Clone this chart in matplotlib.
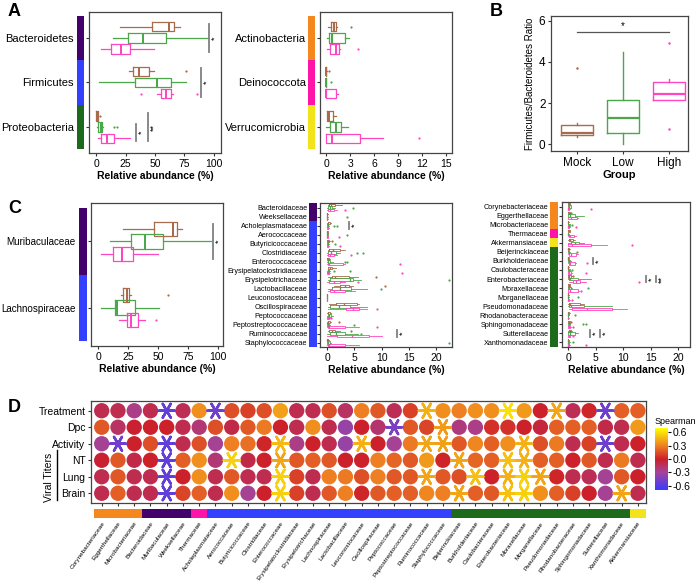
import numpy as np
import matplotlib.pyplot as plt
from matplotlib.colors import LinearSegmentedColormap, Normalize
from matplotlib.cm import ScalarMappable
from matplotlib.lines import Line2D

plt.rcParams['font.family'] = ['Liberation Sans', 'DejaVu Sans']

W, H = 696, 582
groups = ["Mock", "Low", "High"]
group_colors = ["#a86b4c", "#4aa84a", "#ff45c0"]

phylum_col = {"Actinobacteria": "#f5871f", "Bacteroidetes": "#43016b",
              "Deinococcota": "#ff14aa", "Firmicutes": "#3341ff",
              "Proteobacteria": "#1d6a1d", "Verrucomicrobia": "#f3e31b"}

# box stats: (whisker low, q1, median, q3, whisker high, outliers)
# ---- A, left
a1_taxa = ["Bacteroidetes", "Firmicutes", "Proteobacteria"]
a1_phyla = ["Bacteroidetes", "Firmicutes", "Proteobacteria"]
a1_mock = [(20, 47.5, 62, 66, 71, []), (28, 31, 36, 45, 49, [76]), (0, 0, 0.5, 1.4, 1.5, [3.7])]
a1_low = [(14, 27, 40, 59, 95, []), (2.5, 33, 52, 64, 76, []), (0.5, 1.4, 4, 5.4, 5.8, [15, 18])]
a1_high = [(4, 13, 21, 29, 49, []), (52, 55, 59, 64, 65, [38, 86]), (1.4, 4.5, 9, 15, 28.5, [])]
a1_sig = [(96, 1, 0, 2, "*"), (89, 2, 0, 2, "*"), (33.6, 3, 1, 2, "*"), (44, 3, 0, 2, "**")]

# ---- A, right
a2_taxa = ["Actinobacteria", "Deinococcota", "Verrucomicrobia"]
a2_phyla = ["Actinobacteria", "Deinococcota", "Verrucomicrobia"]
a2_mock = [(0.3, 0.6, 1.0, 1.3, 1.4, [3.1]), (0, 0, 0.02, 0.05, 0.1, [0.4]), (0.1, 0.1, 0.4, 0.9, 1.2, [])]
a2_low = [(0.1, 0.4, 0.8, 2.4, 2.9, []), (0, 0, 0.01, 0.03, 0.05, [0.6]), (0, 0.5, 1.3, 1.9, 2.8, [])]
a2_high = [(0.1, 0.5, 1.25, 1.6, 1.7, [4.0]), (0, 0, 0, 1.25, 1.5, []), (0, 0.05, 0.75, 4.2, 7.1, [11.6])]

# ---- B
b_mock = (0.38, 0.47, 0.57, 0.95, 1.05, [3.7])
b_low = (0.0, 0.55, 1.3, 2.15, 4.5, [])
b_high = (2.15, 2.15, 2.43, 3.01, 3.15, [4.93, 0.73])

# ---- C, left
c1_taxa = ["Muribaculaceae", "Lachnospiraceae"]
c1_phyla = ["Bacteroidetes", "Firmicutes"]
c1_mock = [(20.7, 46.6, 62, 66, 69.6, []), (19, 21, 24, 26, 27, [58])]
c1_low = [(10, 27, 39, 54, 94, []), (2, 14, 16, 31, 50.5, [])]
c1_high = [(2, 12.6, 20, 29, 50, []), (17, 24, 27, 33, 39, [48])]
c1_sig = [(96, 1, 0, 2, "*")]

# ---- C, middle
c2_taxa = ["Bacteroidaceae", "Weeksellaceae", "Acholeplasmataceae", "Aerococcaceae",
           "Butyricicoccaceae", "Clostridiaceae", "Enterococcaceae", "Erysipelatoclostridiaceae",
           "Erysipelotrichaceae", "Lactobacillaceae", "Leuconostocaceae", "Oscillospiraceae",
           "Peptococcaceae", "Peptostreptococcaceae", "Ruminococcaceae", "Staphylococcaceae"]
c2_phyla = ["Bacteroidetes"] * 2 + ["Firmicutes"] * 14
c2_mock = [(0.1, 0.3, 0.8, 1.5, 2.7, []), (0, 0, 0, 0.05, 0.1, []), (0, 0.1, 0.2, 0.5, 0.8, []),
           (0, 0, 0.05, 0.1, 0.2, []), (0, 0.05, 0.1, 0.3, 0.5, [0.9]), (0.1, 0.3, 1.0, 2.4, 3.3, []),
           (0, 0.05, 0.1, 0.3, 0.5, []), (0.1, 0.2, 0.5, 0.9, 1.6, []), (0.2, 0.9, 1.5, 4.1, 5.7, [8.9]),
           (1.2, 2.3, 3.3, 4.1, 4.8, [10.7]), (0, 0, 0, 0.02, 0.05, []), (0.3, 1.6, 3.1, 5.5, 5.9, []),
           (0, 0.1, 0.2, 0.5, 0.7, []), (0, 0.1, 0.2, 0.5, 0.8, [2.1]), (0.1, 0.4, 0.9, 1.5, 2.4, [4.3]),
           (0, 0, 0.05, 0.2, 0.3, [])]
c2_low = [(0, 0.2, 0.5, 0.9, 1.4, [4.8]), (0, 0, 0, 0.05, 0.1, [3.7]), (0, 0.05, 0.1, 0.2, 0.4, [1.3, 1.9]),
          (0, 0, 0.02, 0.1, 0.2, [3.7]), (0, 0.05, 0.1, 0.2, 0.4, [1.5]), (0, 0.2, 0.8, 1.6, 2.4, [5.4, 6.6]),
          (0, 0.1, 0.2, 0.6, 1.0, [3.2, 3.7]), (0, 0.1, 0.2, 0.4, 0.6, [1.3, 4.2]), (0.1, 0.5, 4.2, 4.8, 6.2, [22.4]),
          (0.1, 0.9, 2.3, 4.3, 7.3, [9.8]), (0, 0, 0, 0.02, 0.05, []), (0.1, 0.5, 2.1, 4.2, 7.3, []),
          (0, 0.1, 0.3, 0.8, 1.1, []), (0, 0.05, 0.1, 0.3, 0.5, [4.9]), (0, 0.5, 1.6, 3.3, 5.7, [6.3]),
          (0, 0.05, 0.2, 0.5, 0.8, [22.4])]
c2_high = [(0, 0.1, 0.5, 1.3, 1.8, [3.3]), (0, 0, 0, 0.05, 0.1, []), (0, 0.05, 0.1, 0.2, 0.3, []),
           (0, 0, 0.05, 0.1, 0.2, [2.1]), (0, 0.05, 0.1, 0.2, 0.4, [2.4]), (0, 0.1, 0.6, 1.2, 1.8, [4.3]),
           (0, 0.1, 0.3, 2.9, 3.3, [13.4]), (0, 0.05, 0.1, 0.3, 0.5, [13.7]), (0, 0.3, 1.2, 2.4, 3.3, [5.7]),
           (0.1, 0.5, 1.2, 3.3, 5.1, []), (0, 0, 0, 0.02, 0.05, []), (0.1, 3.5, 4.7, 5.9, 7.3, [9.1]),
           (0, 0.05, 0.1, 0.3, 0.5, [0.7]), (0, 0.1, 0.3, 3.3, 5.9, [9.1]), (0, 1.9, 4.5, 7.6, 10.0, []),
           (0, 0.1, 0.3, 3.3, 5.9, [])]
c2_sig = [(4.0, 3, 0, 2, "*"), (12.9, 15, 0, 2, "*")]

# ---- C, right
c3_taxa = ["Corynebacteriaceae", "Eggerthellaceae", "Microbacteriaceae", "Thermaceae",
           "Akkermansiaceae", "Beijerinckiaceae", "Burkholderiaceae", "Caulobacteraceae",
           "Enterobacteriaceae", "Moraxellaceae", "Morganellaceae", "Pseudomonadaceae",
           "Rhodanobacteraceae", "Sphingomonadaceae", "Sutterellaceae", "Xanthomonadaceae"]
c3_phyla = ["Actinobacteria"] * 3 + ["Deinococcota", "Verrucomicrobia"] + ["Proteobacteria"] * 11
c3_mock = [(0, 0.05, 0.1, 0.3, 0.4, []), (0, 0.05, 0.2, 0.3, 0.5, [0.6]), (0, 0, 0.02, 0.05, 0.1, []),
           (0, 0.05, 0.1, 0.3, 0.4, []), (0, 0.1, 0.4, 0.9, 1.2, []), (0, 0.02, 0.05, 0.2, 0.3, []),
           (0, 0, 0.02, 0.1, 0.2, []), (0, 0, 0.02, 0.05, 0.1, []), (0, 0.05, 0.2, 0.6, 0.8, [0.9]),
           (0, 0.05, 0.1, 0.3, 0.4, []), (0, 0, 0.02, 0.05, 0.1, []), (0, 0.1, 0.3, 2.1, 2.8, []),
           (0, 0.02, 0.05, 0.2, 0.3, []), (0, 0.05, 0.1, 0.3, 0.4, [0.6]), (0, 0.1, 0.3, 0.6, 0.8, []),
           (0, 0, 0.02, 0.05, 0.1, [])]
c3_low = [(0, 0.05, 0.2, 0.5, 0.6, []), (0, 0.05, 0.3, 1.2, 2.8, []), (0, 0.05, 0.1, 0.3, 0.4, [0.7]),
          (0, 0, 0.02, 0.05, 0.1, []), (0, 0.5, 1.3, 1.9, 2.8, []), (0, 0.05, 0.1, 0.2, 0.3, [1.7]),
          (0, 0.05, 0.1, 0.4, 0.5, []), (0, 0.05, 0.1, 0.3, 0.4, [0.7]), (0, 0.1, 0.4, 1.8, 4.1, []),
          (0, 0.05, 0.2, 0.5, 0.7, [3.6]), (0, 0, 0.02, 0.05, 0.1, [1.8]), (0, 0.1, 0.5, 2.8, 7.9, []),
          (0, 0, 0.02, 0.05, 0.1, [1.2]), (0, 0.05, 0.1, 0.3, 0.4, [2.7, 3.3]), (0, 0.05, 0.3, 1.2, 1.8, []),
          (0, 0.02, 0.05, 0.2, 0.3, [0.9])]
c3_high = [(0, 0.02, 0.05, 0.2, 0.3, [4.1]), (0, 0.05, 0.5, 1.6, 1.8, []), (0, 0.02, 0.05, 0.2, 0.3, [1.5]),
           (0, 0.1, 0.4, 1.1, 1.5, []), (0, 0.05, 0.75, 4.2, 7.1, [11.6]), (0, 0.1, 0.5, 1.5, 1.8, []),
           (0, 0.1, 0.3, 1.2, 1.4, [3.5]), (0, 0.05, 0.1, 0.5, 0.7, [3.2]), (0.2, 0.9, 1.5, 2.2, 3.3, [12.8]),
           (0, 0.05, 0.3, 1.8, 2.0, [2.4]), (0, 0.02, 0.05, 0.2, 0.3, [0.7]), (0.1, 0.7, 3.5, 7.9, 10.6, []),
           (0, 0, 0.02, 0.05, 0.1, []), (0, 0.05, 0.1, 0.4, 0.5, [0.9]), (0, 0.05, 0.1, 0.3, 0.4, [0.9]),
           (0, 0.02, 0.05, 0.2, 0.3, [3.3])]
c3_sig = [(4.5, 7, 0, 2, "*"), (14.2, 9, 0, 2, "*"), (15.9, 9, 0, 2, "**"),
          (3.9, 15, 0, 2, "*"), (5.8, 15, 0, 2, "*")]

# ---- D (Spearman rho, significant columns are 1-based)
d_rows = ["Treatment", "Dpc", "Activity", "NT", "Lung", "Brain"]
d_fams = ["Corynebacteriaceae", "Eggerthellaceae", "Microbacteriaceae", "Bacteroidaceae",
          "Muribaculaceae", "Weeksellaceae", "Thermaceae", "Acholeplasmataceae", "Aerococcaceae",
          "Butyricicoccaceae", "Clostridiaceae", "Enterococcaceae", "Erysipelatoclostridiaceae",
          "Erysipelotrichaceae", "Lachnospiraceae", "Lactobacillaceae", "Leuconostocaceae",
          "Oscillospiraceae", "Peptococcaceae", "Peptostreptococcaceae", "Ruminococcaceae",
          "Staphylococcaceae", "Beijerinckiaceae", "Burkholderiaceae", "Caulobacteraceae",
          "Enterobacteriaceae", "Moraxellaceae", "Morganellaceae", "Pseudomonadaceae",
          "Rhodanobacteraceae", "Sphingomonadaceae", "Sutterellaceae", "Xanthomonadaceae",
          "Akkermansiaceae"]
d_phyla = (["Actinobacteria"] * 3 + ["Bacteroidetes"] * 3 + ["Deinococcota"] +
           ["Firmicutes"] * 15 + ["Proteobacteria"] * 11 + ["Verrucomicrobia"])
rho_treatment = [-0.1, -0.1, -0.25, -0.1, -0.55, -0.12, 0.35, -0.5, 0.15, 0.1, 0.15, 0.4, -0.1, -0.1, 0.15, -0.15, 0.3,
                 0.18, -0.12, 0.1, 0.45, 0.35, 0.3, 0.35, 0.35, 0.6, 0.38, 0.0, 0.42, -0.12, 0.02, -0.5, 0.2, 0.2]
rho_dpc = [0.18, -0.15, -0.02, 0.0, 0.0, -0.1, -0.2, 0.15, -0.08, 0.18, 0.28, 0.0, -0.1, 0.35, -0.1, -0.35, 0.0,
           -0.18, -0.45, 0.18, 0.12, 0.38, -0.22, -0.25, 0.05, 0.05, 0.0, -0.05, 0.2, 0.2, 0.2, -0.08, -0.1, 0.38]
rho_activity = [-0.28, -0.5, 0.0, 0.15, -0.55, -0.1, 0.15, -0.28, 0.3, 0.25, 0.02, 0.48, -0.25, 0.0, -0.1, -0.35, 0.45,
                0.0, -0.28, 0.28, 0.42, 0.4, 0.18, 0.32, 0.2, 0.35, 0.45, 0.15, 0.28, -0.1, 0.1, -0.5, -0.1, 0.0]
rho_nt = [-0.02, 0.18, -0.08, 0.0, -0.55, 0.2, 0.35, -0.2, 0.55, -0.08, 0.0, 0.42, 0.18, 0.2, 0.18, 0.0, 0.0,
          0.3, 0.22, 0.18, 0.38, 0.02, 0.42, 0.22, 0.2, 0.5, 0.45, 0.2, 0.2, 0.0, 0.18, -0.1, 0.28, -0.1]
rho_lung = [-0.1, 0.18, -0.1, -0.1, -0.55, 0.0, 0.35, -0.1, 0.18, -0.1, -0.1, 0.55, 0.1, -0.1, 0.3, 0.28, 0.15,
            0.3, 0.18, 0.18, 0.42, 0.18, 0.15, 0.5, 0.0, 0.45, 0.55, 0.42, 0.02, -0.1, -0.12, -0.28, 0.18, 0.0]
rho_brain = [-0.1, 0.2, -0.1, -0.1, -0.55, 0.12, 0.2, -0.1, 0.35, -0.28, 0.0, 0.55, 0.1, -0.1, 0.18, 0.3, 0.02,
             0.18, 0.2, 0.2, 0.32, 0.3, 0.42, 0.2, 0.18, 0.5, 0.55, 0.35, 0.2, 0.1, 0.0, -0.28, 0.42, -0.1]
sig_treatment = [5, 8, 21, 26, 29, 32]
sig_dpc = [19, 22]
sig_activity = [2, 5, 12, 17, 21, 22, 27, 32]
sig_nt = [5, 9, 12, 23, 26, 27]
sig_lung = [5, 12, 21, 24, 26, 27, 28]
sig_brain = [5, 12, 23, 26, 27, 33]


def px(x0, y0, x1, y1):
    return [x0 / W, 1 - y1 / H, (x1 - x0) / W, (y1 - y0) / H]


def style_axes(ax):
    for s in ax.spines.values():
        s.set_color("#444444")
        s.set_linewidth(0.9)
    ax.tick_params(length=2.5, width=0.8, color="#333333", labelsize=7.5, pad=1.5)


def box_panel(fig, rect, strip, taxa, phyla, stats, xlim, xticks, off, bw,
              label_size, pad, sig=(), lw=0.9):
    n = len(taxa)
    ylim = (n + 0.5 + 0.08 * (n < 5), 0.5 - 0.08 * (n < 5))
    ax = fig.add_axes(px(*rect))
    for gi, (st, c) in enumerate(zip(stats, group_colors)):
        offs = [-off, 0, off][gi]
        bx = [dict(whislo=s[0], q1=s[1], med=s[2], q3=s[3], whishi=s[4], fliers=s[5]) for s in st]
        ax.bxp(bx, positions=np.arange(1, n + 1) + offs, widths=bw, orientation='horizontal',
               showcaps=False, manage_ticks=False,
               boxprops=dict(color=c, lw=lw), whiskerprops=dict(color=c, lw=lw),
               medianprops=dict(color=c, lw=lw * 1.6),
               flierprops=dict(marker='o', ms=1.6, mfc=c, mec='none'))
    for x, cat, g0, g1, lab in sig:
        o = [-off, 0, off]
        ax.plot([x, x], [cat + o[g0] - bw / 3, cat + o[g1] + bw / 3], color="#808080", lw=1.3)
        ax.text(x + (xlim[1] - xlim[0]) * 0.012, cat + (o[g0] + o[g1]) / 2, lab, rotation=90,
                ha='left', va='center', fontsize=6.5)
    ax.set_yticks(np.arange(1, n + 1), taxa)
    ax.set_ylim(*ylim)
    ax.set_xlim(*xlim)
    ax.set_xticks(xticks)
    style_axes(ax)
    ax.tick_params(axis='y', labelsize=label_size, pad=pad)
    ax.set_xlabel("Relative abundance (%)", fontsize=7.5, fontweight='bold', labelpad=1.5)
    axs = fig.add_axes(px(*strip))
    for i, ph in enumerate(phyla):
        axs.axhspan(i + 0.5, i + 1.5, color=phylum_col[ph], lw=0)
    axs.set_ylim(*ylim)
    axs.axis('off')
    return ax


fig = plt.figure(figsize=(W / 100, H / 100), dpi=100)

box_panel(fig, (89, 12, 221, 153), (77, 12, 84, 153), a1_taxa, a1_phyla,
          [a1_mock, a1_low, a1_high], (-6, 106), [0, 25, 50, 75, 100], 0.25, 0.21, 8, 8.5, a1_sig)
box_panel(fig, (320, 12, 452, 153), (308, 12, 315, 153), a2_taxa, a2_phyla,
          [a2_mock, a2_low, a2_high], (-0.75, 15.7), [0, 3, 6, 9, 12, 15], 0.25, 0.21, 8, 7.8)
box_panel(fig, (91, 203, 223, 346), (79, 203, 87, 346), c1_taxa, c1_phyla,
          [c1_mock, c1_low, c1_high], (-6, 104), [0, 25, 50, 75, 100], 0.19, 0.22, 7.1, 8.8, c1_sig)
box_panel(fig, (320, 203, 452, 347), (309, 203, 316.5, 347), c2_taxa, c2_phyla,
          [c2_mock, c2_low, c2_high], (-1.3, 22.9), [0, 5, 10, 15, 20], 0.28, 0.25, 5.2, 6.5, c2_sig, lw=0.6)
box_panel(fig, (562, 202, 690, 347), (550, 202, 557.5, 347), c3_taxa, c3_phyla,
          [c3_mock, c3_low, c3_high], (-1.1, 22.1), [0, 5, 10, 15, 20], 0.28, 0.25, 5.2, 7, c3_sig, lw=0.6)

# ---- B
axb = fig.add_axes(px(551, 16, 688, 151))
for i, (s, c) in enumerate(zip([b_mock, b_low, b_high], group_colors)):
    axb.bxp([dict(whislo=s[0], q1=s[1], med=s[2], q3=s[3], whishi=s[4], fliers=s[5])],
            positions=[i + 1], widths=0.7, showcaps=False, manage_ticks=False,
            boxprops=dict(color=c, lw=1), whiskerprops=dict(color=c, lw=1),
            medianprops=dict(color=c, lw=1.6),
            flierprops=dict(marker='o', ms=1.8, mfc=c, mec='none'))
axb.plot([1, 3], [5.47, 5.47], color="#555555", lw=0.9)
axb.text(2, 5.5, "*", ha='center', va='bottom', fontsize=7)
axb.set_xlim(0.43, 3.41)
axb.set_ylim(-0.32, 6.23)
axb.set_xticks([1, 2, 3], groups)
axb.set_yticks([0, 2, 4, 6])
style_axes(axb)
axb.tick_params(labelsize=8.5)
axb.set_xlabel("Group", fontsize=8, fontweight='bold', labelpad=1)
axb.set_ylabel("Firmicutes/Bacteroidetes Ratio", fontsize=7, labelpad=3)

# ---- D
cmap = LinearSegmentedColormap.from_list(
    "spear", [(0, "#3a3aff"), (0.286, "#a4449a"), (0.5, "#cc1f2a"), (0.714, "#ee7f22"), (1, "#ffff00")])
norm = Normalize(-0.7, 0.7)
axd = fig.add_axes(px(91, 401, 646, 503))
cols = np.arange(1, len(d_fams) + 1)
rho_rows = [rho_treatment, rho_dpc, rho_activity, rho_nt, rho_lung, rho_brain]
sig_rows = [sig_treatment, sig_dpc, sig_activity, sig_nt, sig_lung, sig_brain]
for r, (vals, sg) in enumerate(zip(rho_rows, sig_rows)):
    vals = np.array(vals)
    m = np.isin(cols, sg)
    axd.scatter(cols[~m], np.full((~m).sum(), r + 1), c=vals[~m], cmap=cmap, norm=norm,
                s=122, edgecolors='none')
    axd.scatter(cols[m], np.full(m.sum(), r + 1), c=vals[m], cmap=cmap, norm=norm,
                s=130, marker=(6, 2, 90), linewidths=1.8)
axd.set_xlim(0.34, 34.5)
axd.set_ylim(6.59, 0.41)
axd.set_yticks(np.arange(1, 7), d_rows)
axd.set_xticks(cols)
axd.set_xticklabels([])
style_axes(axd)
axd.tick_params(axis='y', labelsize=7.5)

axds = fig.add_axes(px(91, 509, 646, 518))
for k, ph in enumerate(d_phyla):
    axds.axvspan(k + 0.5, k + 1.5, color=phylum_col[ph], lw=0)
axds.set_xlim(0.34, 34.5)
axds.set_xticks(cols)
axds.set_xticklabels(d_fams, rotation=55, ha='right', rotation_mode='anchor', fontsize=4.6)
axds.tick_params(length=0, pad=2)
axds.set_yticks([])
for s in axds.spines.values():
    s.set_visible(False)

fig.text(49 / W, 1 - 477 / H, "Viral Titers", rotation=90, ha='center', va='center', fontsize=7.5)
fig.add_artist(Line2D([57 / W, 57 / W], [1 - 450 / H, 1 - 500 / H], color='black', lw=1))

cax = fig.add_axes(px(655, 428, 668, 490))
cb = fig.colorbar(ScalarMappable(norm=norm, cmap=cmap), cax=cax, ticks=[-0.6, -0.3, 0, 0.3, 0.6])
cb.ax.set_yticklabels(["-0.6", "-0.3", "0.0", "0.3", "0.6"])
cb.ax.tick_params(labelsize=7.5, length=2, pad=1)
cb.outline.set_visible(False)
fig.text(655 / W, 1 - 421 / H, "Spearman", fontsize=6.5, va='center')

for lab, x, y in [("A", 8, 11), ("B", 490, 11), ("C", 8, 208), ("D", 8, 407)]:
    fig.text(x / W, 1 - y / H, lab, fontsize=13, fontweight='bold', va='center')

fig.savefig("out.png", dpi=100)
